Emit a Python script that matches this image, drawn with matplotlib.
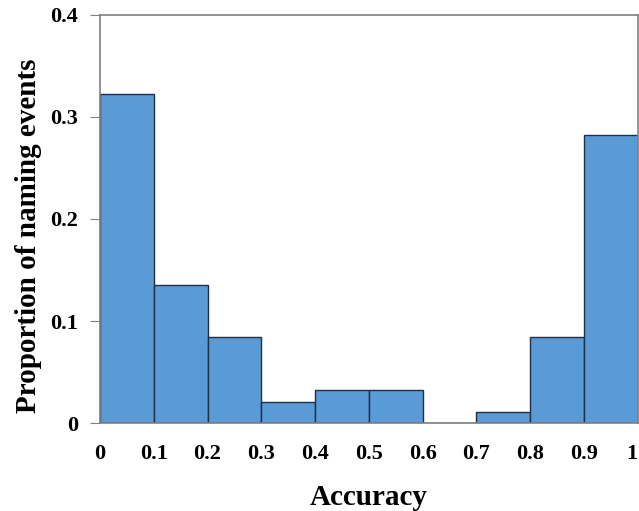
import matplotlib
matplotlib.use("Agg")
import matplotlib.pyplot as plt
import numpy as np

bin_edges = [0, 0.1, 0.2, 0.3, 0.4, 0.5, 0.6, 0.7, 0.8, 0.9, 1.0]
proportions = [0.322, 0.135, 0.084, 0.021, 0.032, 0.032, 0.0, 0.011, 0.084, 0.282]
x_ticks = [0, 0.1, 0.2, 0.3, 0.4, 0.5, 0.6, 0.7, 0.8, 0.9, 1]
x_labels = ["0", "0.1", "0.2", "0.3", "0.4", "0.5", "0.6", "0.7", "0.8", "0.9", "1"]
y_ticks = [0, 0.1, 0.2, 0.3, 0.4]
y_labels = ["0", "0.1", "0.2", "0.3", "0.4"]

plt.rcParams['font.family'] = ['Liberation Serif', 'DejaVu Serif']
plt.rcParams['font.weight'] = 'bold'

fig = plt.figure(figsize=(6.39, 5.11), dpi=100)
ax = fig.add_axes([0.1565, 0.172, 0.8415, 0.799])

ax.bar(bin_edges[:-1], proportions, width=0.1, align='edge',
       color='#5b9bd5', edgecolor='#1f2d45', linewidth=1.0)

ax.set_xlim(0, 1)
ax.set_ylim(0, 0.4)
ax.set_xticks(x_ticks)
ax.set_xticklabels(x_labels, fontsize=16, fontweight='bold')
ax.get_xticklabels()[-1].set_ha('right')  # keep the "1" inside the figure
ax.set_yticks(y_ticks)
ax.set_yticklabels(y_labels, fontsize=16, fontweight='bold')
ax.tick_params(axis='x', length=0, pad=15)
ax.tick_params(axis='y', direction='out', length=7, color='#808080', pad=9)

for s in ax.spines.values():
    s.set_color('#808080')
    s.set_linewidth(1.2)

ax.set_xlabel("Accuracy", fontsize=21, fontweight='bold')
ax.set_ylabel("Proportion of naming events", fontsize=21, fontweight='bold')
ax.xaxis.set_label_coords(0.5, -0.148)
ax.yaxis.set_label_coords(-0.108, 0.458)

fig.savefig("out.png", dpi=100)
